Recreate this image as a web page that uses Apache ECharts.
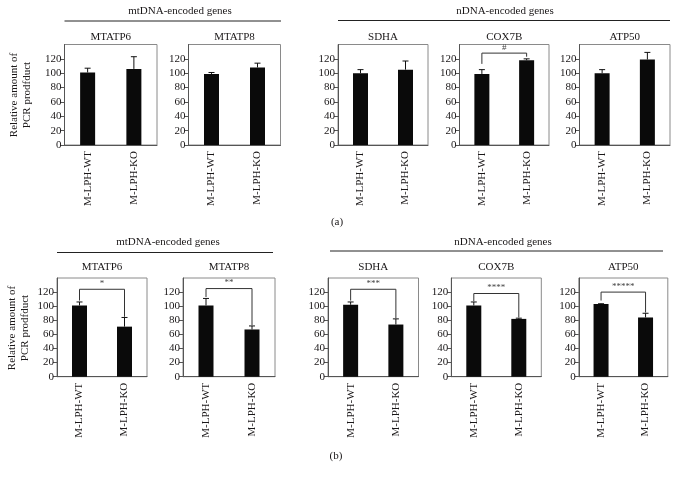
<!DOCTYPE html>
<html>
<head>
<meta charset="utf-8">
<script src="https://cdn.jsdelivr.net/npm/echarts@6/dist/echarts.min.js"></script>
<style>html,body{margin:0;padding:0;background:#fff}#c{width:679px;height:478px}</style>
</head>
<body>
<div id="c"></div>
<script>
const categories = ['M-LPH-WT', 'M-LPH-KO'];
const genes = ['MTATP6', 'MTATP8', 'SDHA', 'COX7B', 'ATP50'];
const yTicks = [0, 20, 40, 60, 80, 100, 120];
const rowAValues = [[101, 106], [99, 108], [100, 105], [99, 118], [100, 119]];
const rowAErrors = [[6, 17], [2, 6], [5, 12], [6, 2], [5, 10]];
const rowBValues = [[101, 71], [101, 67], [102, 74], [101, 82], [103, 84]];
const rowBErrors = [[5, 13], [10, 5], [4, 8], [5, 1], [0.5, 6]];
// bracket: [height, left leg end, right leg end]
const rowABrackets = [null, null, null, [128, 113, 123], null];
const rowAMarks = [null, null, null, '#', null];
const rowBBrackets = [[124, 108, 85], [125, 113, 73], [124, 108, 83], [118, 107, 84], [120, 108, 91]];
const rowBMarks = ['*', '**', '***', '****', '*****'];
const groupTitles = ['mtDNA-encoded genes', 'nDNA-encoded genes'];
const panelLabels = ['(a)', '(b)'];
const yAxisName = 'Relative amount of\nPCR prodfduct';

// layout (pixels)
const FONT = 'Liberation Serif';
const TXT = '#1a1718';
const rows = [
  { top: 44.5, height: 100.5, grids: [[64.5, 92.5], [188.5, 92], [338, 90], [459.5, 89.5], [579.5, 90.5]],
    values: rowAValues, errors: rowAErrors, brackets: rowABrackets, marks: rowAMarks,
    titleY: 32, groupY: 5.5, lines: [[64.5, 281, 21], [338, 670, 20.5]], groupX: [180, 505],
    nameX: 20.5, nameY: 95, labelPos: [337, 222] },
  { top: 278, height: 98.7, grids: [[57, 90], [183, 92], [328, 90.5], [451.3, 90], [578.8, 89]],
    values: rowBValues, errors: rowBErrors, brackets: rowBBrackets, marks: rowBMarks,
    titleY: 262, groupY: 237, lines: [[57, 273, 252.5], [330, 663, 251]], groupX: [168, 503],
    nameX: 19, nameY: 328, labelPos: [336, 456] }
];

const grid = [], xAxis = [], yAxis = [], series = [], title = [], graphic = [];
let gi = 0;
rows.forEach((row, r) => {
  row.grids.forEach((g, p) => {
    grid.push({ left: g[0], top: row.top, width: g[1], height: row.height, show: true,
      borderColor: '#8a8a8a', borderWidth: 1, backgroundColor: 'transparent', containLabel: false });
    xAxis.push({ type: 'category', gridIndex: gi, data: categories,
      axisLine: { lineStyle: { color: '#555', width: 1 } },
      axisTick: { alignWithLabel: true, length: 4, lineStyle: { color: '#555' } },
      axisLabel: { rotate: 90, margin: 6, color: TXT, fontFamily: FONT, fontSize: 11 } });
    yAxis.push({ type: 'value', gridIndex: gi, min: 0, max: 140, interval: 20,
      splitLine: { show: false },
      axisLine: { show: true, lineStyle: { color: '#555', width: 1 } },
      axisTick: { show: true, length: 4, customValues: yTicks, lineStyle: { color: '#555' } },
      axisLabel: { margin: 3, color: TXT, fontFamily: FONT, fontSize: 11, customValues: yTicks } });
    series.push({ type: 'bar', xAxisIndex: gi, yAxisIndex: gi, data: row.values[p], barWidth: 15,
      itemStyle: { color: '#0a0a0a' }, silent: true, animation: false });
    const errData = row.values[p].map((v, i) => [i, v, row.errors[p][i]]);
    series.push({ type: 'custom', xAxisIndex: gi, yAxisIndex: gi, data: errData, encode: { x: 0, y: 1 }, z: 5,
      animation: false, silent: true,
      renderItem: (params, api) => {
        const x = api.value(0), v = api.value(1), e = api.value(2);
        const p0 = api.coord([x, v]), p1 = api.coord([x, v + e]);
        return { type: 'group', children: [
          { type: 'line', shape: { x1: p0[0], y1: p0[1], x2: p1[0], y2: p1[1] }, style: { stroke: '#111', lineWidth: 1 } },
          { type: 'line', shape: { x1: p1[0] - 3, y1: p1[1], x2: p1[0] + 3, y2: p1[1] }, style: { stroke: '#111', lineWidth: 1 } }
        ] };
      } });
    const br = row.brackets[p];
    if (br) {
      const mark = row.marks[p];
      series.push({ type: 'custom', xAxisIndex: gi, yAxisIndex: gi, data: [[0, br[0], br[1], br[2]]],
        encode: { x: 0, y: 1 }, z: 6, animation: false, silent: true,
        renderItem: (params, api) => {
          const h = api.value(1), l = api.value(2), rr = api.value(3);
          const a = api.coord([0, l]), b = api.coord([0, h]), c = api.coord([1, h]), d = api.coord([1, rr]);
          return { type: 'group', children: [
            { type: 'polyline', shape: { points: [a, b, c, d] }, style: { stroke: '#333', lineWidth: 1, fill: null } },
            { type: 'text', x: (b[0] + c[0]) / 2, y: b[1] - 1,
              style: { text: mark, fill: '#444', font: '9px "' + FONT + '"', textAlign: 'center', textVerticalAlign: 'bottom' } }
          ] };
        } });
    }
    title.push({ text: genes[p], left: g[0] + g[1] / 2, top: row.titleY, textAlign: 'center', padding: 0,
      textStyle: { fontFamily: FONT, fontSize: 11, fontWeight: 'normal', color: TXT } });
    gi++;
  });
  groupTitles.forEach((t, k) => {
    title.push({ text: t, left: row.groupX[k], top: row.groupY, textAlign: 'center', padding: 0,
      textStyle: { fontFamily: FONT, fontSize: 11, fontWeight: 'normal', color: TXT } });
    const ln = row.lines[k];
    graphic.push({ type: 'line', shape: { x1: ln[0], y1: ln[2], x2: ln[1], y2: ln[2] }, style: { stroke: '#222', lineWidth: 1 } });
  });
  graphic.push({ type: 'text', x: row.nameX, y: row.nameY, rotation: Math.PI / 2,
    style: { text: yAxisName, font: '11px "' + FONT + '"', fill: TXT, textAlign: 'center', textVerticalAlign: 'middle', lineHeight: 13 } });
  graphic.push({ type: 'text', x: row.labelPos[0], y: row.labelPos[1],
    style: { text: panelLabels[r], font: '11px "' + FONT + '"', fill: TXT, textAlign: 'center', textVerticalAlign: 'middle' } });
});

const chart = echarts.init(document.getElementById('c'), null, { renderer: 'canvas' });
chart.setOption({ animation: false, backgroundColor: '#fff', title, grid, xAxis, yAxis, series, graphic });
</script>
</body>
</html>
